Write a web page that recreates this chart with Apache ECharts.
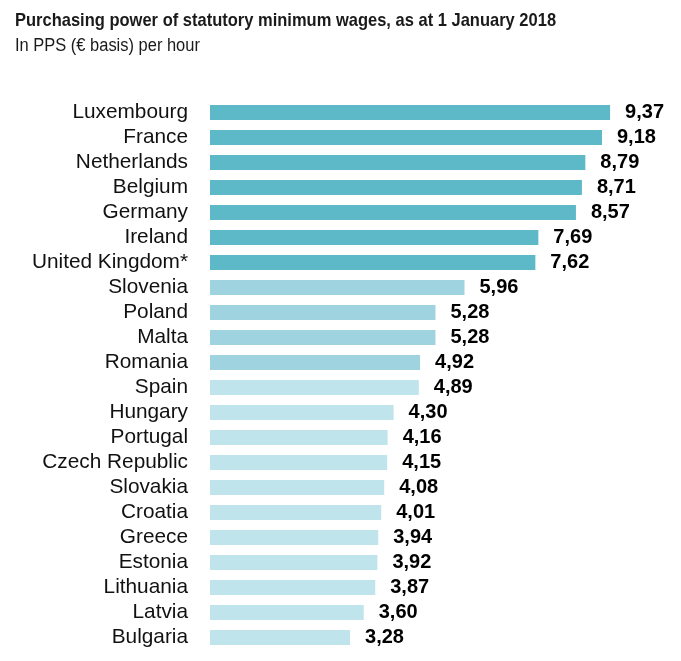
<!DOCTYPE html>
<html><head><meta charset="utf-8">
<script src="https://cdn.jsdelivr.net/npm/echarts@6/dist/echarts.min.js"></script>
<style>html,body{margin:0;padding:0;background:#fff}#c{width:681px;height:661px}</style>
</head><body><div id="c"></div>
<script>
var countries = ["Luxembourg","France","Netherlands","Belgium","Germany","Ireland","United Kingdom*","Slovenia","Poland","Malta","Romania","Spain","Hungary","Portugal","Czech Republic","Slovakia","Croatia","Greece","Estonia","Lithuania","Latvia","Bulgaria"];
var wages = [9.37,9.18,8.79,8.71,8.57,7.69,7.62,5.96,5.28,5.28,4.92,4.89,4.30,4.16,4.15,4.08,4.01,3.94,3.92,3.87,3.60,3.28];
var groups = [0,0,0,0,0,0,0,1,1,1,1,2,2,2,2,2,2,2,2,2,2,2];
var groupColors = ["#5db9c7","#9fd3df","#bfe4eb"];
var titleText = "Purchasing power of statutory minimum wages, as at 1 January 2018";
var subtitleText = "In PPS (\u20ac basis) per hour";

var chart = echarts.init(document.getElementById('c'), null, {renderer:'canvas'});
chart.setOption({
  animation:false,
  graphic:[
    {type:'text', x:15, y:20.6, scaleX:0.892, silent:true,
     style:{text:titleText, font:"bold 18.5px 'Liberation Sans', Arial", fill:'#1a1a1a', align:'left', verticalAlign:'middle'}},
    {type:'text', x:15, y:46.5, scaleX:0.915, silent:true,
     style:{text:subtitleText, font:"18px 'Liberation Sans', Arial", fill:'#1a1a1a', align:'left', verticalAlign:'middle'}}
  ],
  grid:{left:210, top:100, width:427, height:550},
  xAxis:{type:'value', min:0, max:10, show:false},
  yAxis:{type:'category', data:countries, inverse:true,
    axisLine:{show:false}, axisTick:{show:false},
    axisLabel:{interval:0, margin:22, fontFamily:"'Liberation Sans',Arial", fontSize:20.8, color:'#111'}},
  series:[{type:'bar', barWidth:15,
    data:wages.map(function(v,i){return {value:v,itemStyle:{color:groupColors[groups[i]]}};}),
    label:{show:true, position:'right', distance:15,
      formatter:function(p){return p.value.toFixed(2).replace('.',',');},
      fontFamily:"'Liberation Sans',Arial", fontWeight:'bold', fontSize:20, color:'#000'}
  }]
});
</script></body></html>
